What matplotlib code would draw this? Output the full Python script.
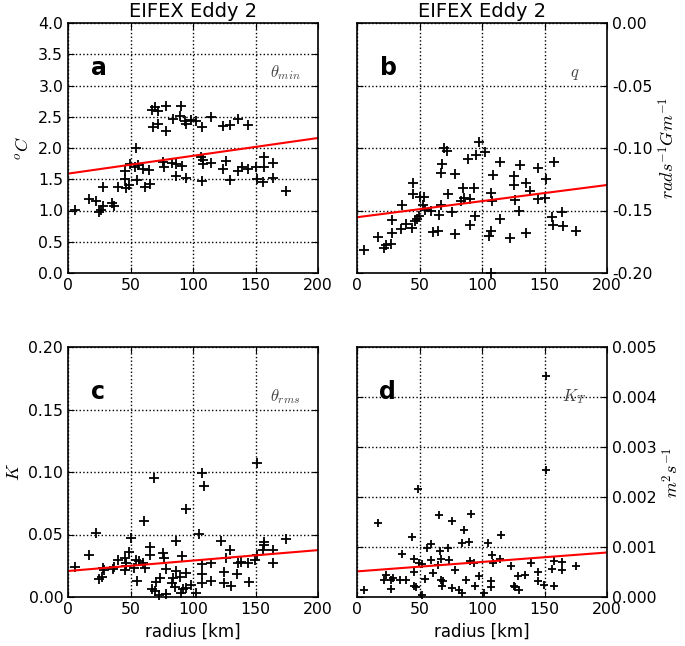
import numpy as np
import matplotlib
matplotlib.use("Agg")
import matplotlib.pyplot as plt
from matplotlib.ticker import FuncFormatter

plt.rcParams['mathtext.fontset'] = 'cm'
plt.rcParams['xtick.direction'] = 'in'
plt.rcParams['ytick.direction'] = 'in'
plt.rcParams['font.size'] = 11.3

# panel a: theta_min (radius km, oC)
a_r = [5.9, 17, 22.5, 24.6, 26.5, 28.3, 27.8, 35.3, 36.4, 39.8, 45.5, 45.2, 46.5, 48.4, 49.7,
       53.2, 54, 55.3, 55.9, 60, 61.2, 64.7, 65.2, 67.4, 69.3, 71.9, 67.9, 71.9, 78, 78,
       75.9, 76.5, 84, 83.4, 86.6, 86.1, 90.6, 89.8, 91.4, 93.3, 94, 94.7, 98.1, 102.7, 106.7,
       108, 107.5, 108, 107.5, 114.7, 114.7, 124, 129.4, 126.2, 124, 129.4, 135.6, 136.1, 138.8,
       144, 144, 150.3, 150.8, 155.6, 156.7, 156.7, 164.2, 164.2, 174.3]
a_v = [1.01, 1.18, 1.15, 0.97, 1.01, 1.08, 1.38, 1.12, 1.08, 1.38, 1.64, 1.50, 1.36, 1.41, 1.75,
       1.69, 2.0, 1.49, 1.73, 1.66, 1.37, 1.65, 1.42, 2.61, 2.65, 2.60, 2.34, 2.38, 2.68, 2.28,
       1.78, 1.69, 2.46, 1.76, 1.74, 1.56, 2.68, 2.52, 1.72, 2.44, 2.38, 1.52, 2.45, 2.44, 1.85,
       1.81, 2.33, 1.74, 1.48, 2.49, 1.76, 2.36, 2.37, 1.79, 1.66, 1.49, 2.46, 1.64, 1.69,
       2.37, 1.67, 1.69, 1.50, 1.45, 1.85, 1.69, 1.76, 1.52, 1.32]
a_fit = [1.59, 2.16]

# panel b: q
b_r = [5.4, 16.5, 21.8, 23.2, 27, 27.8, 27.8, 35, 35.9, 39.1, 44, 44.8, 44.8, 46.1, 48, 49.4,
       50.7, 52.9, 53.9, 54.7, 58.8, 61, 64.7, 65.5, 67.4, 68.2, 69.6, 72.3, 67.4, 72.8, 76.3,
       78.2, 78.2, 83, 84.4, 85.8, 89, 90.6, 90.6, 93.9, 94.7, 95.2, 97.9, 102.7, 105.4, 106.8,
       107.3, 107.9, 108.7, 107.3, 114.6, 114.6, 122.7, 125.4, 125.7, 126.2, 129.5, 130.3, 134.8,
       135.1, 138.4, 144.6, 144.6, 150.5, 151.3, 155.9, 156.7, 157.2, 164, 164.5, 174.8]
b_v = [-0.1815, -0.1715, -0.180, -0.1774, -0.1769, -0.1573, -0.168, -0.1648, -0.1452, -0.1608,
       -0.164, -0.1277, -0.1371, -0.1586, -0.1565, -0.1546, -0.139, -0.1452, -0.1392, -0.1492,
       -0.1505, -0.1675, -0.1661, -0.1532, -0.1196, -0.1124, -0.100, -0.1027, -0.1452, -0.1371,
       -0.1513, -0.1204, -0.1688, -0.1425, -0.1317, -0.1398, -0.1089, -0.1406, -0.1613, -0.1317,
       -0.1546, -0.1054, -0.0949, -0.1035, -0.1702, -0.1667, -0.1358, -0.1425, -0.1215, -0.200,
       -0.1565, -0.1108, -0.172, -0.1223, -0.1298, -0.1417, -0.1505, -0.1137, -0.1282,
       -0.168, -0.1344, -0.1161, -0.1411, -0.1403, -0.1245, -0.1551, -0.1613, -0.1108, -0.1513,
       -0.1621, -0.1661]
b_fit = [-0.1554, -0.1296]

# panel c: theta_rms (K)
c_r = [5.9, 17.1, 22.5, 24.6, 27, 27.8, 28.6, 35.8, 36.4, 39.8, 45.2, 46, 45.2, 46.5, 48.4, 50,
       52.4, 54.5, 55.3, 56.7, 59.9, 60.4, 61.2, 65.2, 65.8, 67.4, 68.7, 69.3, 70.6, 72.7, 73.3,
       75.9, 76.5, 78.1, 78.1, 83.2, 84, 85.3, 86.1, 86.6, 89.3, 90.6, 91.4, 92, 94.1, 94.7, 94.1,
       98.1, 102.1, 104.8, 107.5, 108.6, 107.5, 107.5, 107.5, 114.7, 114.7, 122.2, 124.9, 124.9,
       126.2, 129.4, 130, 134.8, 135.6, 138.2, 144.1, 144.9, 149.5, 150.8, 151.3, 156.1, 156.7,
       156.7, 163.6, 164.2, 174.3]
c_v = [0.0242, 0.0335, 0.0516, 0.0144, 0.0162, 0.0234, 0.0215, 0.0221, 0.0242, 0.0295, 0.0309,
       0.0269, 0.0215, 0.025, 0.0362, 0.0473, 0.0229, 0.030, 0.0128, 0.0287, 0.0274, 0.0606,
       0.0229, 0.0402, 0.0335, 0.0061, 0.0952, 0.0051, 0.0122, 0.0016, 0.0154, 0.0354, 0.0309,
       0.0221, 0.0021, 0.0114, 0.0149, 0.0082, 0.0447, 0.0207, 0.0162, 0.0035, 0.0327, 0.0061,
       0.0702, 0.0189, 0.0069, 0.0096, 0.0035, 0.0508, 0.0992, 0.0886, 0.0261, 0.0181, 0.0114,
       0.0274, 0.0128, 0.0447, 0.0202, 0.0109, 0.0309, 0.038, 0.009, 0.0181, 0.0269, 0.0282,
       0.0269, 0.0122, 0.0295, 0.0335, 0.1072, 0.0375, 0.0441, 0.0415, 0.0375, 0.0269, 0.0468]
c_fit = [0.0208, 0.0375]

# panel d: K_T (m2/s)
d_r = [5.4, 17, 23.2, 21.8, 27.2, 27.2, 29.1, 34.5, 35.9, 39.4, 43.9, 45.3, 45.3, 45.3, 47.5,
       48.8, 49.4, 52, 52, 54.7, 55.6, 58.8, 59.3, 60.9, 65, 65.5, 66.3, 67.4, 67.4, 69, 68.2,
       73.1, 73.6, 75.8, 76.3, 78.2, 81.7, 83.6, 83.9, 85.8, 87.1, 89.8, 90.6, 91.2, 93.9, 94.4,
       97.9, 101.9, 104.6, 107.3, 107.3, 107.9, 108.7, 114.9, 114.6, 123, 125.4, 126.2, 129.5,
       128.9, 134.3, 138.9, 144.6, 145.1, 149.9, 151.3, 151.3, 157.2, 155.9, 157.2, 164, 164,
       174.8]
d_v = [0.000146, 0.00149, 0.000445, 0.000346, 0.000346, 0.00016, 0.000379, 0.000346, 0.000857,
       0.000346, 0.0012, 0.000757, 0.000498, 0.000226, 0.000193, 0.00216, 0.000678, 0.000664,
       0.000046, 0.000359, 0.000977, 0.00106, 0.000744, 0.000478, 0.000645, 0.00164, 0.00093,
       0.000757, 0.000346, 0.000312, 0.000213, 0.000977, 0.000744, 0.00153, 0.00018, 0.000545,
       0.000146, 0.00008, 0.00109, 0.00134, 0.000346, 0.00111, 0.000711, 0.00167, 0.000678,
       0.000226, 0.000412, 0.00008, 0.00109, 0.000312, 0.000193, 0.000844, 0.000678, 0.00124,
       0.000757, 0.000611, 0.000226, 0.000193, 0.000133, 0.000425, 0.000445, 0.000678, 0.000492,
       0.000312, 0.000233, 0.00443, 0.00255, 0.000724, 0.000565, 0.000226, 0.000698, 0.000545,
       0.000611]
d_fit = [0.000512, 0.00089]

fit_x = [0, 200]

fig = plt.figure(figsize=(6.85, 6.46), dpi=100)
W, H = 250 / 685, 250 / 646
ax_a = fig.add_axes([68 / 685, 1 - 273 / 646, W, H])
ax_b = fig.add_axes([357 / 685, 1 - 273 / 646, W, H])
ax_c = fig.add_axes([68 / 685, 1 - 597 / 646, W, H])
ax_d = fig.add_axes([357 / 685, 1 - 597 / 646, W, H])

def make_fmt(f):
    # avoid "-0.00"
    return FuncFormatter(lambda v, p: f % (0.0 if abs(v) < 1e-12 else v))

panels = [
    (ax_a, a_r, a_v, a_fit, (0, 4.0), 0.5, '%.1f', 'a', r'$\theta_{min}$', r'$^oC$', False, 7),
    (ax_b, b_r, b_v, b_fit, (-0.2, 0.0), 0.05, '%.2f', 'b', r'$q$', r'$rads^{-1}Gm^{-1}$', True, 7),
    (ax_c, c_r, c_v, c_fit, (0, 0.2), 0.05, '%.2f', 'c', r'$\theta_{rms}$', r'$K$', False, 7),
    (ax_d, d_r, d_v, d_fit, (0, 0.005), 0.001, '%.3f', 'd', r'$K_T$', r'$m^2s^{-1}$', True, 5.5),
]

for ax, r, v, fit, ylim, step, fmt, lab, name, ylab, right, ms in panels:
    ax.plot(r, v, '+', color='k', ms=ms, mew=1.3, clip_on=False)
    ax.plot(fit_x, fit, '-', color='red', lw=1.5)
    ax.set_xlim(0, 200)
    ax.set_ylim(*ylim)
    ax.set_xticks(np.arange(0, 201, 50))
    ax.set_yticks(np.arange(ylim[0], ylim[1] + step / 2, step))
    ax.yaxis.set_major_formatter(make_fmt(fmt))
    ax.grid(True, linestyle=':', color='k', lw=1)
    ax.tick_params(top=True, right=True, length=4)
    for s in ax.spines.values():
        s.set_linewidth(1.2)
    if right:
        ax.yaxis.tick_right()
        ax.yaxis.set_label_position('right')
        ax.tick_params(left=True)
    ax.set_ylabel(ylab, fontsize=13)
    ax.text(0.09, 0.82, lab, transform=ax.transAxes, fontsize=17, fontweight='bold',
            va='center', ha='left')
    ax.text(0.87, 0.80, name, transform=ax.transAxes, fontsize=12, color='#444444',
            va='center', ha='center')

ax_a.set_title('EIFEX Eddy 2', fontsize=14, pad=4)
ax_b.set_title('EIFEX Eddy 2', fontsize=14, pad=4)
ax_c.set_xlabel('radius [km]', fontsize=12)
ax_d.set_xlabel('radius [km]', fontsize=12)

fig.savefig('out.png', dpi=100)
